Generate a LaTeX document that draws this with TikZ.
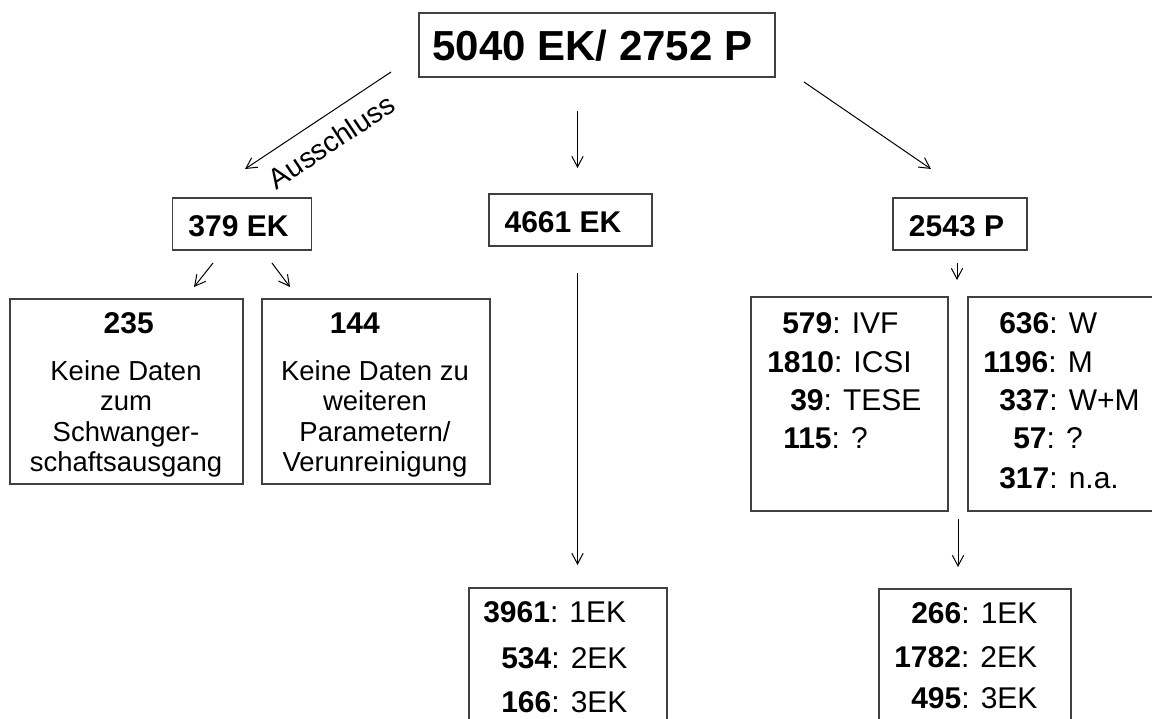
\documentclass[tikz,border=0pt]{standalone}
\usepackage{fontspec}
\setmainfont{Liberation Sans}
\usetikzlibrary{arrows.meta}
\definecolor{boxgray}{HTML}{404040}
\tikzset{
  frame/.style={draw=boxgray, line width=1.1pt, inner sep=0pt},
  lbl/.style={font=\fontsize{22.5pt}{27pt}\selectfont\bfseries, inner sep=0pt},
  entry/.style={font=\fontsize{22.5pt}{27pt}\selectfont, inner sep=0pt, anchor=west},
  desc/.style={font=\fontsize{20.6pt}{22.9pt}\selectfont, align=center, inner sep=0pt, anchor=north},
  arr/.style={-{Straight Barb[length=8pt,width=8.5pt]}, line width=0.75pt, black},
}
\begin{document}
\begin{tikzpicture}[x=0.75pt,y=-0.75pt]
\useasboundingbox (0,0) rectangle (1152,718);
\fill[white] (0,0) rectangle (1152,718);
\clip (0,0) rectangle (1152,718);

% boxes
\node[frame, minimum width=267pt, minimum height=48pt] (top) at (597,45) {};
\node[frame, minimum width=104.25pt, minimum height=39pt] (b379) at (242,224) {};
\node[frame, minimum width=122.25pt, minimum height=39pt] (b4661) at (570.5,220) {};
\node[frame, minimum width=100.5pt, minimum height=39pt] (b2543) at (960,224) {};
\node[frame, minimum width=174.75pt, minimum height=138.75pt] (b235) at (126.5,391.5) {};
\node[frame, minimum width=171pt, minimum height=138.75pt] (b144) at (376,391.5) {};
\node[frame, minimum width=147.75pt, minimum height=160.5pt] (bivf) at (849.5,404) {};
\node[frame, minimum width=147.75pt, minimum height=160.5pt] (bw) at (1066.5,404) {};
\node[frame, minimum width=148.5pt, minimum height=121.5pt] (b3961) at (568,669) {};
\node[frame, minimum width=144pt, minimum height=120.75pt] (b266) at (975,669.5) {};

% box titles
\node[lbl, font=\fontsize{31.5pt}{36pt}\selectfont\bfseries] (ttop) at (592.5,46) {5040 EK/ 2752 P};
\node[lbl] (t379) at (238.5,226) {379 EK};
\node[lbl] (t4661) at (563,222) {4661 EK};
\node[lbl] (t2543) at (956.5,226) {2543 P};
\node[lbl] (t235) at (128.7,323) {235};
\node[lbl] (t144) at (354.8,323) {144};

% descriptions
\node[desc] (d235) at (126,360) {Keine Daten\\zum\\Schwanger-\\schaftsausgang};
\node[desc] (d144) at (375,360) {Keine Daten zu\\weiteren\\Parametern/\\Verunreinigung};

% procedure box
\node[entry] (e1) at (782,323) {\textbf{579}: IVF};
\node[entry] (e2) at (767,362) {\textbf{1810}: ICSI};
\node[entry] (e3) at (790,400) {\textbf{39}: TESE};
\node[entry] (e4) at (783,438) {\textbf{115}: ?};

% sex box
\node[entry] (w1) at (999,323) {\textbf{636}: W};
\node[entry] (w2) at (983,362) {\textbf{1196}: M};
\node[entry] (w3) at (999,400) {\textbf{337}: W+M};
\node[entry] (w4) at (1013,438) {\textbf{57}: ?};
\node[entry] (w5) at (999,478) {\textbf{317}: n.a.};

% EK count boxes
\node[entry] (k1) at (483,612) {\textbf{3961}: 1EK};
\node[entry] (k2) at (501,658) {\textbf{534}: 2EK};
\node[entry] (k3) at (501,702) {\textbf{166}: 3EK};
\node[entry] (p1) at (911,613) {\textbf{266}: 1EK};
\node[entry] (p2) at (894,657) {\textbf{1782}: 2EK};
\node[entry] (p3) at (911,698) {\textbf{495}: 3EK};

% connector end points
\coordinate (a1s) at (391,72);   \coordinate (a1e) at (245,169);
\coordinate (a2s) at (577.5,111); \coordinate (a2e) at (577.5,168);
\coordinate (a3s) at (804,82);   \coordinate (a3e) at (931,169);
\coordinate (a4s) at (213,263);  \coordinate (a4e) at (194,287);
\coordinate (a5s) at (272,263);  \coordinate (a5e) at (290,287);
\coordinate (a6s) at (957,263);  \coordinate (a6e) at (957,280);
\coordinate (a7s) at (577.5,273); \coordinate (a7e) at (577.5,565);
\coordinate (a8s) at (958,519);  \coordinate (a8e) at (958,567);

\draw[arr] (a1s) -- (a1e);
\draw[arr] (a2s) -- (a2e);
\draw[arr] (a3s) -- (a3e);
\draw[arr] (a4s) -- (a4e);
\draw[arr] (a5s) -- (a5e);
\draw[arr] (a6s) -- (a6e);
\draw[arr] (a7s) -- (a7e);
\draw[arr] (a8s) -- (a8e);

\node[font=\fontsize{21.4pt}{25pt}\selectfont, inner sep=0pt, anchor=base, rotate=33.7] (aus) at (337,150) {Ausschluss};
\end{tikzpicture}
\end{document}
